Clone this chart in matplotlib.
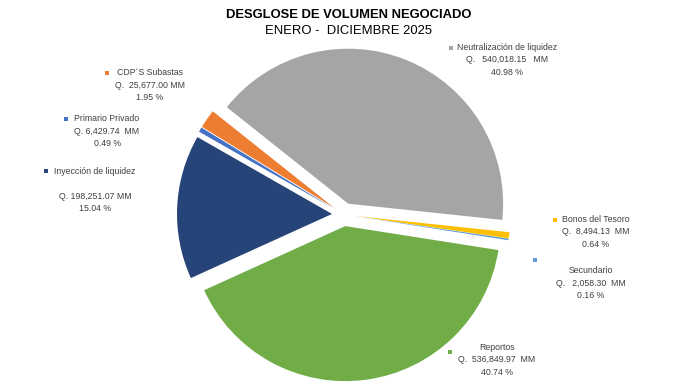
import matplotlib.pyplot as plt

plt.rcParams['font.family'] = ['Liberation Sans', 'DejaVu Sans']

output = "out.png"
fz = 6.3

# data, clockwise from the gray slice
categories = ['Neutralización de liquidez', 'Bonos del Tesoro', 'Secundario', 'Reportos',
              'Inyección de liquidez', 'Primario Privado', 'CDP´S Subastas']
values = [540018.15, 8494.13, 2058.30, 536849.97, 198251.07, 6429.74, 25677.00]
amounts = ['Q.   540,018.15   MM', 'Q.  8,494.13  MM', 'Q.   2,058.30  MM', 'Q.  536,849.97  MM',
           'Q. 198,251.07 MM', 'Q. 6,429.74  MM', 'Q.  25,677.00 MM']
percents = ['40.98 %', '0.64 %', '0.16 %', '40.74 %', '15.04 %', '0.49 %', '1.95 %']
colors = ['#A5A5A5', '#FFC000', '#5B9BD5', '#70AD47', '#264478', '#4472C4', '#ED7D31']

# label layout in pixels from top-left: text centre, marker
label_pos = [(507, 60), (596, 232), (591, 283), (497, 360), (95, 190), (107, 131), (150, 85)]
marker_pos = [(451, 48), (555, 220), (535, 260), (450, 352), (46, 171), (66, 119), (107, 73)]

W, H = 695, 390

fig = plt.figure(figsize=(W / 100, H / 100), dpi=100)
ax = fig.add_axes([0, 0, 1, 1])

# explode is in data units here (pixels)
ax.pie(values, colors=colors, startangle=141.5, counterclock=False,
       radius=155, center=(343.7, H - 214.5), explode=[11.7] * len(values),
       wedgeprops=dict(linewidth=0))

ax.set_xlim(0, W)
ax.set_ylim(0, H)
ax.set_aspect('equal')
ax.axis('off')

for i in range(len(categories)):
    if categories[i] == 'Inyección de liquidez':
        txt = "%s\n\n%s\n%s" % (categories[i], amounts[i], percents[i])
    else:
        txt = "%s\n%s\n%s" % (categories[i], amounts[i], percents[i])
    x, y = label_pos[i]
    ax.text(x, H - y, txt, ha='center', va='center', fontsize=fz, linespacing=1.45, color='#404040')
    mx, my = marker_pos[i]
    ax.plot([mx], [H - my], 's', color=colors[i], markersize=3.5, markeredgewidth=0)

ax.text(W / 2 + 1, H - 15, 'DESGLOSE DE VOLUMEN NEGOCIADO', ha='center', va='center',
        fontsize=9.4, fontweight='bold', color='black')
ax.text(W / 2 + 1, H - 31, 'ENERO -  DICIEMBRE 2025', ha='center', va='center',
        fontsize=9.4, color='black')

plt.savefig(output, dpi=100)
plt.close()
